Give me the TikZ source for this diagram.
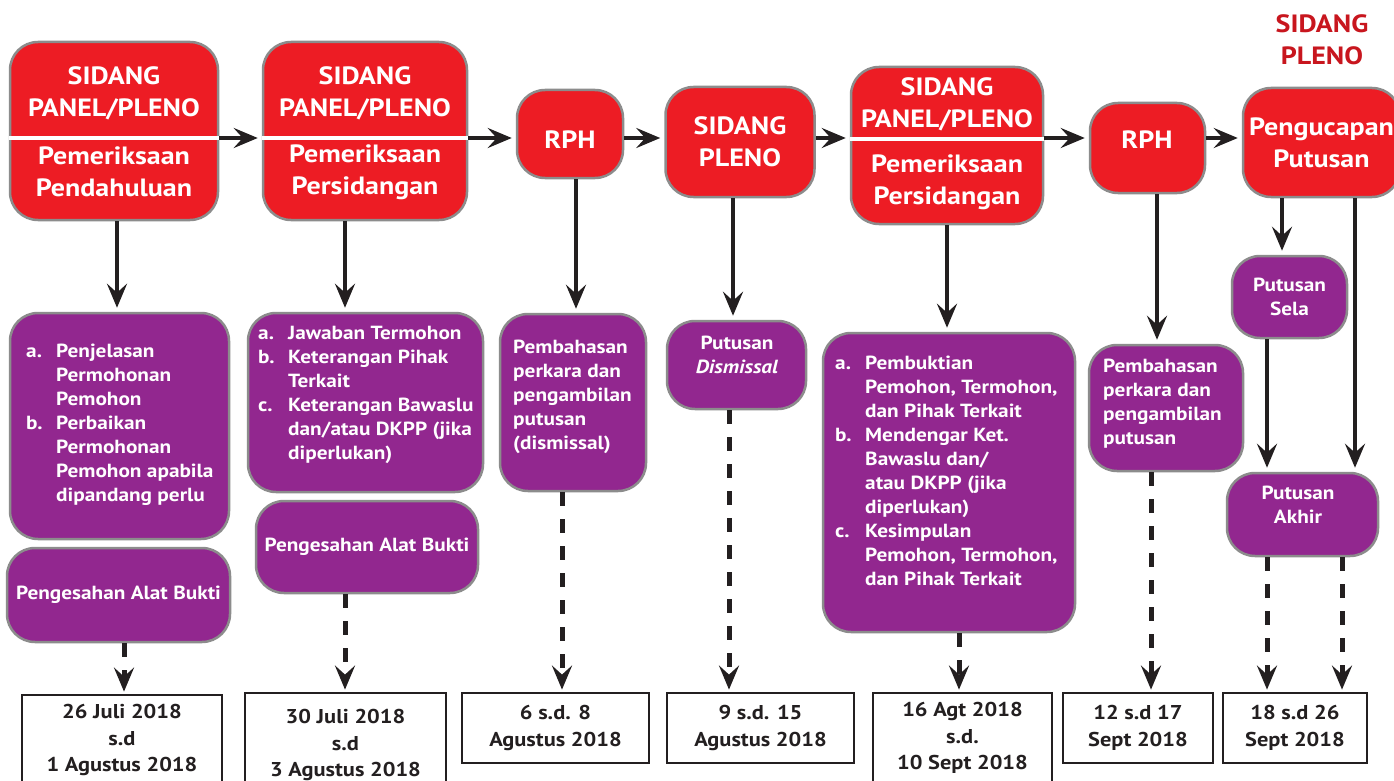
\documentclass[tikz,border=0pt]{standalone}
\usepackage{fontspec}
\setmainfont{PT Sans}[FakeStretch=1.12]
\usetikzlibrary{arrows.meta,positioning}

\definecolor{boxRed}{HTML}{ED1C24}
\definecolor{boxPurple}{HTML}{92278F}
\definecolor{boxGray}{HTML}{8C8C8C}
\definecolor{lineDark}{HTML}{231F20}
\definecolor{titleRed}{HTML}{C8161E}

\newcommand{\redFont}{\bfseries\fontsize{25}{32}\selectfont}
\newcommand{\purpleFont}{\bfseries\fontsize{19}{24}\selectfont}
\newcommand{\dateFont}{\bfseries\fontsize{20}{26.5}\selectfont}
\newcommand{\itm}[1]{\makebox[30pt][l]{#1}}
\newcommand{\ind}{\hspace*{30pt}}

\tikzset{
  redbox/.style={draw=boxGray, line width=2.5pt, fill=boxRed, rounded corners=28pt,
    inner sep=0pt, text=white, align=center, font=\redFont},
  purplebox/.style={draw=boxGray, line width=2.5pt, fill=boxPurple, rounded corners=28pt,
    inner sep=0pt, text=white, align=center, font=\purpleFont},
  redtxt/.style={text=white, align=center, inner sep=0pt, font=\redFont},
  ptxt/.style={text=white, align=left, inner sep=0pt, anchor=west, font=\purpleFont},
  pctxt/.style={text=white, align=center, inner sep=0pt, font=\purpleFont},
  datebox/.style={draw=lineDark, line width=2.8pt, fill=white, inner sep=0pt,
    align=center, text=lineDark, font=\dateFont},
  sepline/.style={draw=white, line width=4pt},
  arr/.style={draw=lineDark, line width=4.5pt, shorten >=4pt,
    -{Stealth[length=24pt,width=20pt,inset=9pt]}},
  darr/.style={arr, line width=5pt, shorten >=2pt, dash pattern=on 14pt off 13pt},
}

\begin{document}
\begin{tikzpicture}[x=1pt,y=-1pt]
    \useasboundingbox[fill=white] (0,0) rectangle (1394,781);
    \coordinate (hy) at (0,138);

    % tahap sidang (merah)
    \node[redbox, minimum width=208pt, minimum height=178pt] (panelA) at (114,131) {};
    \node[redbox, minimum width=204pt, minimum height=178pt] (panelB) at (365,131) {};
    \node[redbox, minimum width=106pt, minimum height=88pt] (rphA) at (570,134) {};
    \node[redbox, minimum width=149pt, minimum height=110pt] (pleno) at (740,142) {SIDANG\\PLENO};
    \node[redbox, minimum width=192pt, minimum height=157pt] (panelC) at (947,145.5) {};
    \node[redbox, minimum width=115pt, minimum height=90pt] (rphB) at (1147.5,148) {};
    \node[redbox, minimum width=157pt, minimum height=109pt] (ucap) at (1321.5,142.5) {Pengucapan\\Putusan};
    \node[redtxt, text=titleRed] (ucapTitle) at (1322,40) {SIDANG\\PLENO};

    \draw[sepline] (panelA.west |- hy) -- (panelA.east |- hy);
    \draw[sepline] (panelB.west |- hy) -- (panelB.east |- hy);
    \draw[sepline] (panelC.west |- 0,139) -- (panelC.east |- 0,139);

    \node[redtxt] (panelAtop) at (114,93) {SIDANG\\PANEL/PLENO};
    \node[redtxt] (panelAbot) at (114,172) {Pemeriksaan\\Pendahuluan};
    \node[redtxt] (panelBtop) at (365,93) {SIDANG\\PANEL/PLENO};
    \node[redtxt] (panelBbot) at (365,172) {Pemeriksaan\\Persidangan};
    \node[redtxt] (panelCtop) at (947,104) {SIDANG\\PANEL/PLENO};
    \node[redtxt] (panelCbot) at (947,182.5) {Pemeriksaan\\Persidangan};
    \node[redtxt] (rphAtxt) at (570,140) {RPH};
    \node[redtxt] (rphBtxt) at (1147,140) {RPH};

    % kegiatan (ungu)
    \node[purplebox, minimum width=219pt, minimum height=226pt] (listA) at (119.5,426) {};
    \node[purplebox, minimum width=223pt, minimum height=94pt] (sahA) at (118.5,595) {Pengesahan Alat Bukti};
    \node[purplebox, minimum width=235pt, minimum height=179pt] (listB) at (365.5,402.5) {};
    \node[purplebox, minimum width=222pt, minimum height=92pt] (sahB) at (367,547) {Pengesahan Alat Bukti};
    \node[purplebox, minimum width=146pt, minimum height=177pt] (bahasA) at (573,402.5) {};
    \node[purplebox, minimum width=139pt, minimum height=88pt] (dismis) at (736.5,365) {};
    \node[purplebox, minimum width=252pt, minimum height=299pt] (listC) at (949,482.5) {};
    \node[purplebox, minimum width=154pt, minimum height=126pt] (bahasB) at (1166,408) {};
    \node[purplebox, minimum width=115pt, minimum height=82pt] (sela) at (1289.5,297) {Putusan\\Sela};
    \node[purplebox, minimum width=151pt, minimum height=83pt] (akhir) at (1302.5,514.5) {};

    \node[ptxt] (listAtxt) at (26,425) {\itm{a.}Penjelasan\\\ind Permohonan\\\ind Pemohon\\
      \itm{b.}Perbaikan\\\ind Permohonan\\\ind Pemohon apabila\\\ind dipandang perlu};
    \node[ptxt] (listBtxt) at (258,395) {\itm{a.}Jawaban Termohon\\\itm{b.}Keterangan Pihak\\\ind Terkait\\
      \itm{c.}Keterangan Bawaslu\\\ind dan/atau DKPP (jika\\\ind diperlukan)};
    \node[ptxt] (bahasAtxt) at (513,397) {Pembahasan\\perkara dan\\pengambilan\\putusan\\(dismissal)};
    \node[pctxt] (dismisTxt) at (737,355) {Putusan\\\textit{Dismissal}};
    \node[ptxt] (listCtxt) at (835,471) {\itm{a.}Pembuktian\\\ind Pemohon, Termohon,\\\ind dan Pihak Terkait\\
      \itm{b.}Mendengar Ket.\\\ind Bawaslu dan/\\\ind atau DKPP (jika\\\ind diperlukan)\\
      \itm{c.}Kesimpulan\\\ind Pemohon, Termohon,\\\ind dan Pihak Terkait};
    \node[ptxt] (bahasBtxt) at (1103,404) {Pembahasan\\perkara dan\\pengambilan\\putusan};
    \node[pctxt] (akhirTxt) at (1298,505) {Putusan\\Akhir};

    % tanggal
    \node[datebox, minimum width=200pt, minimum height=90pt] (dateA) at (122,740) {26 Juli 2018\\s.d\\1 Agustus 2018};
    \node[datebox, minimum width=201pt, minimum height=104pt] (dateB) at (345.5,745) {30 Juli 2018\\s.d\\3 Agustus 2018};
    \node[datebox, minimum width=187pt, minimum height=70pt] (dateC) at (555.5,728) {6 s.d. 8\\Agustus 2018};
    \node[datebox, minimum width=187pt, minimum height=70pt] (dateD) at (760.5,728) {9 s.d. 15\\Agustus 2018};
    \node[datebox, minimum width=179pt, minimum height=90pt] (dateE) at (962.5,738) {16 Agt 2018\\s.d.\\10 Sept 2018};
    \node[datebox, minimum width=150pt, minimum height=70pt] (dateF) at (1138,728) {12 s.d 17\\Sept 2018};
    \node[datebox, minimum width=144pt, minimum height=70pt] (dateG) at (1295,728) {18 s.d 26\\Sept 2018};

    % panah
    \draw[arr] (panelA.east |- hy) -- (panelB.west |- hy);
    \draw[arr] (panelB.east |- hy) -- (rphA.west |- hy);
    \draw[arr] (rphA.east |- hy) -- (pleno.west |- hy);
    \draw[arr] (pleno.east |- hy) -- (panelC.west |- hy);
    \draw[arr] (panelC.east |- hy) -- (rphB.west |- hy);
    \draw[arr] (rphB.east |- hy) -- (ucap.west |- hy);
    \foreach \src/\dst/\xc in {panelA/listA/117, panelB/listB/345, rphA/bahasA/576,
        pleno/dismis/733, panelC/listC/947, rphB/bahasB/1157, ucap/sela/1282,
        ucap/akhir/1355, sela/akhir/1267}
      \draw[arr] (\src.south -| \xc,0) -- (\dst.north -| \xc,0);
    \foreach \src/\dst/\xc in {sahA/dateA/124, sahB/dateB/345, bahasA/dateC/562,
        dismis/dateD/729, listC/dateE/959, bahasB/dateF/1151, akhir/dateG/1267,
        akhir/dateG/1342}
      \draw[darr] (\src.south -| \xc,0) -- (\dst.north -| \xc,0);
\end{tikzpicture}
\end{document}
